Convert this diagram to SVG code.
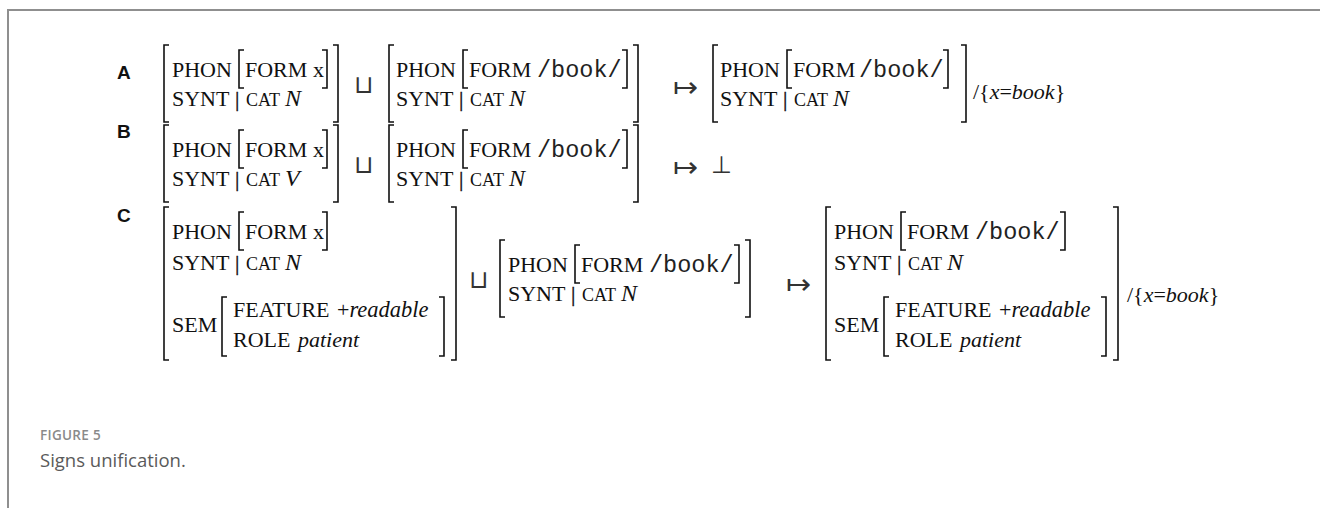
<svg xmlns="http://www.w3.org/2000/svg" width="1320" height="508" viewBox="0 0 1320 508">
<style>
.t{font-family:"Liberation Serif",serif;font-size:22px;fill:#111}
.sc{font-size:18px}
.it{font-style:italic}
.nv{font-style:italic;font-size:24px}
.bar{stroke:#111;stroke-width:0.4}
.mono{font-family:"Liberation Mono",monospace;font-size:23.5px;fill:#222}
.br{fill:none;stroke:#111;stroke-width:1.6}
.lbl{font-family:"Liberation Sans",sans-serif;font-weight:bold;font-size:19px;fill:#111}
.sym{font-family:"DejaVu Sans",sans-serif;font-weight:200;fill:#333}
.cap1{font-family:"Open Sans",sans-serif;font-weight:600;font-size:13.5px;fill:#8a8a8a;letter-spacing:0.3px}
.cap2{font-family:"Open Sans",sans-serif;font-size:18.5px;fill:#5a5a5a}
.frame{fill:none;stroke:#8f8f8f;stroke-width:2}
</style>
<path class="frame" d="M8 508 V10 H1320"/>

<g id="rowA">
<text class="lbl" x="117" y="79">A</text>
<g id="A1">
<path class="br" d="M169 45 H164 V122 H169 M244 50 H239 V88 H244 M322 50 H327 V88 H322 M333 45 H338 V122 H333"/>
<text class="t" x="172" y="77">PHON</text>
<text class="t" x="245" y="77">FORM</text>
<text class="t" x="313" y="77">x</text>
<text class="t" x="172" y="106">SYNT</text>
<text class="t bar" x="235" y="106">|</text>
<text class="t sc" x="246" y="106">CAT</text>
<text class="t nv" x="285" y="106">N</text>
</g>
<text class="sym" x="354" y="93" font-size="25">⊔</text>
<g id="A2">
<path class="br" d="M394 45 H389 V122 H394 M468 50 H463 V88 H468 M622 50 H627 V88 H622 M633 45 H638 V122 H633"/>
<text class="t" x="396" y="77">PHON</text>
<text class="t" x="469" y="77">FORM</text>
<text class="mono" x="537" y="77">/book/</text>
<text class="t" x="396" y="106">SYNT</text>
<text class="t bar" x="459" y="106">|</text>
<text class="t sc" x="470" y="106">CAT</text>
<text class="t nv" x="509" y="106">N</text>
</g>
<text class="sym" x="673" y="97" font-size="30">↦</text>
<g id="A3">
<path class="br" d="M718 45 H713 V122 H718 M792 50 H787 V88 H792 M943 50 H948 V88 H943 M961 45 H966 V122 H961"/>
<text class="t" x="720" y="77">PHON</text>
<text class="t" x="793" y="77">FORM</text>
<text class="mono" x="859" y="77">/book/</text>
<text class="t" x="720" y="106">SYNT</text>
<text class="t bar" x="783" y="106">|</text>
<text class="t sc" x="794" y="106">CAT</text>
<text class="t nv" x="833" y="106">N</text>
</g>
<text class="t" x="973" y="99">/{<tspan class="it">x</tspan>=<tspan class="it">book</tspan>}</text>
</g>

<g id="rowB">
<text class="lbl" x="117" y="138">B</text>
<g id="B1">
<path class="br" d="M169 125 H164 V202 H169 M244 130 H239 V168 H244 M322 130 H327 V168 H322 M333 125 H338 V202 H333"/>
<text class="t" x="172" y="157">PHON</text>
<text class="t" x="245" y="157">FORM</text>
<text class="t" x="313" y="157">x</text>
<text class="t" x="172" y="186">SYNT</text>
<text class="t bar" x="235" y="186">|</text>
<text class="t sc" x="246" y="186">CAT</text>
<text class="t nv" x="285" y="186">V</text>
</g>
<text class="sym" x="354" y="173" font-size="25">⊔</text>
<g id="B2">
<path class="br" d="M394 125 H389 V202 H394 M468 130 H463 V168 H468 M622 130 H627 V168 H622 M633 125 H638 V202 H633"/>
<text class="t" x="396" y="157">PHON</text>
<text class="t" x="469" y="157">FORM</text>
<text class="mono" x="537" y="157">/book/</text>
<text class="t" x="396" y="186">SYNT</text>
<text class="t bar" x="459" y="186">|</text>
<text class="t sc" x="470" y="186">CAT</text>
<text class="t nv" x="509" y="186">N</text>
</g>
<text class="sym" x="673" y="177" font-size="30">↦</text>
<text class="sym" x="711" y="173" font-size="24">⊥</text>
</g>

<g id="rowC">
<text class="lbl" x="117" y="222">C</text>
<g id="C1">
<path class="br" d="M169 207 H164 V360 H169 M244 212 H239 V250 H244 M322 212 H327 V250 H322 M227 297 H222 V356 H227 M439 297 H444 V356 H439 M451 207 H456 V360 H451"/>
<text class="t" x="172" y="239">PHON</text>
<text class="t" x="245" y="239">FORM</text>
<text class="t" x="313" y="239">x</text>
<text class="t" x="172" y="270">SYNT</text>
<text class="t bar" x="235" y="270">|</text>
<text class="t sc" x="246" y="270">CAT</text>
<text class="t nv" x="285" y="270">N</text>
<text class="t" x="172" y="332">SEM</text>
<text class="t" x="233" y="317">FEATURE</text>
<text class="t" x="337" y="317">+<tspan class="it" font-size="22.5">readable</tspan></text>
<text class="t" x="233" y="347">ROLE</text>
<text class="t it" x="298" y="347">patient</text>
</g>
<text class="sym" x="469" y="288" font-size="25">⊔</text>
<g id="C2">
<path class="br" d="M505 240 H500 V317 H505 M580 245 H575 V283 H580 M734 245 H739 V283 H734 M745 240 H750 V317 H745"/>
<text class="t" x="508" y="272">PHON</text>
<text class="t" x="581" y="272">FORM</text>
<text class="mono" x="649" y="272">/book/</text>
<text class="t" x="508" y="301">SYNT</text>
<text class="t bar" x="571" y="301">|</text>
<text class="t sc" x="582" y="301">CAT</text>
<text class="t nv" x="621" y="301">N</text>
</g>
<text class="sym" x="786" y="294" font-size="30">↦</text>
<g id="C3">
<path class="br" d="M831 207 H826 V360 H831 M906 212 H901 V250 H906 M1060 212 H1065 V250 H1060 M889 297 H884 V356 H889 M1101 297 H1106 V356 H1101 M1113 207 H1118 V360 H1113"/>
<text class="t" x="834" y="239">PHON</text>
<text class="t" x="907" y="239">FORM</text>
<text class="mono" x="975" y="239">/book/</text>
<text class="t" x="834" y="270">SYNT</text>
<text class="t bar" x="897" y="270">|</text>
<text class="t sc" x="908" y="270">CAT</text>
<text class="t nv" x="947" y="270">N</text>
<text class="t" x="834" y="332">SEM</text>
<text class="t" x="895" y="317">FEATURE</text>
<text class="t" x="999" y="317">+<tspan class="it" font-size="22.5">readable</tspan></text>
<text class="t" x="895" y="347">ROLE</text>
<text class="t it" x="960" y="347">patient</text>
</g>
<text class="t" x="1127" y="302">/{<tspan class="it">x</tspan>=<tspan class="it">book</tspan>}</text>
</g>

<g id="caption">
<text class="cap1" x="40" y="440">FIGURE 5</text>
<text class="cap2" x="40" y="467">Signs unification.</text>
</g>
</svg>
